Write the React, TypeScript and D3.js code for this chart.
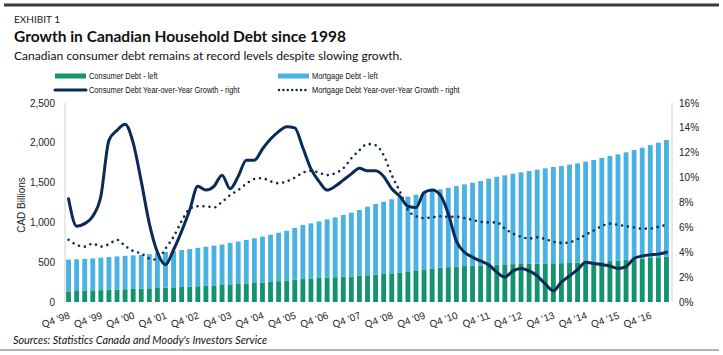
import React from "react";
import * as d3 from "d3";

// ---- data ----
// categories: quarterly, Q4 1998 through Q2 2017
const quarters: string[] = (() => {
  const out: string[] = [];
  let y = 1998, q = 4;
  for (let i = 0; i < 75; i++) {
    out.push(`Q${q} '${String(y % 100).padStart(2, "0")}`);
    q++;
    if (q > 4) { q = 1; y++; }
  }
  return out;
})();

const consumerDebt = [
  135, 138, 141, 145, 149, 152, 156, 160, 164, 168, 172, 176, 180, 184, 188, 193, 198, 203, 208, 214,
  220, 226, 232, 239, 246, 254, 262, 270, 279, 288, 296, 302, 307, 312, 316, 320, 328, 336, 344, 352,
  360, 372, 385, 398, 410, 422, 430, 438, 445, 451, 456, 460, 464, 468, 472, 476, 478, 480, 482, 484,
  486, 488, 490, 493, 496, 499, 506, 514, 522, 530, 537, 545, 553, 561, 569,
];

const mortgageDebt = [
  398, 399, 401, 403, 407, 413, 417, 420, 422, 424, 428, 438, 448, 456, 464, 472, 482, 491, 500, 508,
  522, 534, 548, 561, 576, 591, 608, 625, 651, 679, 692, 711, 731, 751, 777, 802, 827, 861, 887, 908,
  930, 943, 938, 950, 963, 972, 985, 998, 1012, 1027, 1043, 1060, 1085, 1106, 1119, 1136, 1151, 1165, 1180, 1195,
  1210, 1220, 1235, 1249, 1267, 1285, 1303, 1320, 1333, 1350, 1372, 1393, 1419, 1440, 1466,
];

const consumerGrowth = [
  8.3, 6.1, 6.3, 6.9, 8.5, 13.0, 13.8, 14.3, 12.8, 9.7, 6.3, 4.0, 3.0, 4.2, 5.7, 7.4, 9.3, 9.0, 9.3, 10.2,
  9.1, 10.1, 11.4, 11.4, 12.3, 13.1, 13.7, 14.1, 14.0, 12.4, 10.7, 9.7, 9.0, 9.3, 9.8, 10.3, 10.75, 10.55, 10.55, 10.1,
  9.1, 8.5, 7.7, 7.6, 8.8, 9.0, 8.6, 7.1, 4.9, 4.0, 3.6, 3.3, 3.0, 2.4, 2.0, 2.5, 2.7, 2.5, 2.1, 1.45,
  0.9, 1.6, 2.1, 2.6, 3.2, 3.1, 3.0, 2.9, 2.7, 2.85, 3.5, 3.7, 3.8, 3.85, 4.0,
];

const mortgageGrowth = [
  5.0, 4.6, 4.45, 4.7, 4.45, 4.65, 5.0, 4.5, 4.1, 3.9, 3.5, 3.4, 4.3, 5.25, 6.5, 7.5, 7.7, 7.7, 7.6, 8.05,
  8.6, 9.0, 9.5, 9.9, 9.95, 9.7, 9.55, 9.7, 10.0, 10.4, 10.55, 10.4, 10.2, 10.35, 10.75, 11.55, 12.2, 12.7, 12.6, 11.8,
  10.2, 8.9, 7.4, 6.9, 6.75, 6.8, 6.9, 6.85, 6.85, 6.75, 6.6, 6.45, 6.4, 6.4, 5.9, 5.5, 5.25, 5.1, 5.2, 5.05,
  4.85, 4.75, 4.8, 5.05, 5.4, 5.75, 6.1, 6.3, 6.2, 6.1, 6.0, 5.9, 5.9, 6.05, 6.2,
];

const leftTicks = [0, 500, 1000, 1500, 2000, 2500];
const rightTicks = [0, 2, 4, 6, 8, 10, 12, 14, 16];
const labelEvery = 4;

const legendItems = [
  { label: "Consumer Debt - left", kind: "bar", color: "#14936F" },
  { label: "Mortgage Debt - left", kind: "bar", color: "#49B2E2" },
  { label: "Consumer Debt Year-over-Year Growth - right", kind: "line", color: "#0A2A57" },
  { label: "Mortgage Debt Year-over-Year Growth - right", kind: "dot", color: "#0A2A57" },
];

// ---- styles ----
const GREEN = "#14936F";
const BLUE = "#49B2E2";
const NAVY = "#0A2A57";
const AX = "Liberation Sans, Arial, sans-serif";
const HEAD = "Lato, 'Open Sans', sans-serif";

export default function App() {
  const W = 723, H = 355;
  const x = d3
    .scaleBand<number>()
    .domain(d3.range(quarters.length))
    .range([64.5, 670.5])
    .paddingInner(0.4)
    .paddingOuter(0.2);
  const yL = d3.scaleLinear().domain([0, 2500]).range([302, 103]);
  const yR = d3.scaleLinear().domain([0, 16]).range([302, 103]);
  const cx = (i: number) => (x(i) as number) + x.bandwidth() / 2;

  const line = d3
    .line<number>()
    .x((_, i) => cx(i))
    .y((d) => yR(d))
    .curve(d3.curveMonotoneX);

  const fmt = d3.format(",");

  return (
    <svg
      width={W}
      height={H}
      style={{ position: "absolute", left: 0, top: 0, background: "#fff" }}
    >
      {/* frame lines */}
      <line x1={4} x2={719} y1={5} y2={5} stroke="#3a3a3a" strokeWidth={3} />
      <line x1={0} x2={719} y1={350} y2={350} stroke="#9a9a9a" strokeWidth={1.5} />

      {/* header */}
      <text x={14} y={23} fontFamily={HEAD} fontSize={10} fill="#222">EXHIBIT 1</text>
      <text x={14} y={42} fontFamily={HEAD} fontSize={15.5} fontWeight={700} fill="#111">
        Growth in Canadian Household Debt since 1998
      </text>
      <text x={14} y={60} fontFamily={HEAD} fontSize={12.1} fill="#111">
        Canadian consumer debt remains at record levels despite slowing growth.
      </text>

      {/* legend */}
      {legendItems.map((it, k) => {
        const col = k % 2, row = Math.floor(k / 2);
        const lx = col === 0 ? 55 : 278;
        const ly = row === 0 ? 76 : 90;
        return (
          <g key={it.label}>
            {it.kind === "bar" && (
              <rect x={lx} y={ly - 2.5} width={31} height={5} fill={it.color} />
            )}
            {it.kind === "line" && (
              <line x1={lx} x2={lx + 31} y1={ly} y2={ly} stroke={it.color} strokeWidth={3} strokeLinecap="round" />
            )}
            {it.kind === "dot" && (
              <line x1={lx + 1} x2={lx + 31} y1={ly} y2={ly} stroke={it.color} strokeWidth={2.5}
                strokeDasharray="0 4.4" strokeLinecap="round" />
            )}
            <text transform={`translate(${lx + 34},${ly + 3.4}) scale(0.76,1)`} fontFamily={AX}
              fontSize={9.8} fill="#111">
              {it.label}
            </text>
          </g>
        );
      })}

      {/* axes lines */}
      <line x1={65} x2={65} y1={103} y2={302} stroke="#d0d0d0" strokeWidth={1} />
      <line x1={672} x2={672} y1={103} y2={302} stroke="#d0d0d0" strokeWidth={1} />

      {/* bars */}
      {quarters.map((q, i) => (
        <g key={q}>
          <rect x={x(i)} width={x.bandwidth()} y={yL(consumerDebt[i])}
            height={yL(0) - yL(consumerDebt[i])} fill={GREEN} />
          <rect x={x(i)} width={x.bandwidth()} y={yL(consumerDebt[i] + mortgageDebt[i])}
            height={yL(consumerDebt[i]) - yL(consumerDebt[i] + mortgageDebt[i])} fill={BLUE} />
        </g>
      ))}

      {/* lines */}
      <path d={line(mortgageGrowth) || ""} fill="none" stroke={NAVY} strokeWidth={2.6}
        strokeDasharray="0 6" strokeLinecap="round" />
      <path d={line(consumerGrowth) || ""} fill="none" stroke={NAVY} strokeWidth={3}
        strokeLinejoin="round" strokeLinecap="round" />

      {/* left ticks */}
      {leftTicks.map((t) => (
        <text key={t} x={55} y={yL(t) + 3.5} textAnchor="end" fontFamily={AX} fontSize={10} fill="#222">
          {fmt(t)}
        </text>
      ))}
      {/* right ticks */}
      {rightTicks.map((t) => (
        <text key={t} x={679} y={yR(t) + 3.5} fontFamily={AX} fontSize={10} fill="#222">
          {t}%
        </text>
      ))}
      <text transform="translate(25,205) rotate(-90)" textAnchor="middle" fontFamily={AX} fontSize={10} fill="#222">
        CAD Billions
      </text>

      {/* x labels */}
      {quarters.map((q, i) =>
        i % labelEvery === 0 ? (
          <text key={q} transform={`translate(${cx(i) + 2},${318}) rotate(-20)`} textAnchor="end"
            fontFamily={AX} fontSize={10} fill="#222">
            {q}
          </text>
        ) : null
      )}

      {/* source */}
      <text x={13} y={344} fontFamily={HEAD} fontStyle="italic" fontSize={10.8} fill="#111">
        Sources: Statistics Canada and Moody's Investors Service
      </text>
    </svg>
  );
}
